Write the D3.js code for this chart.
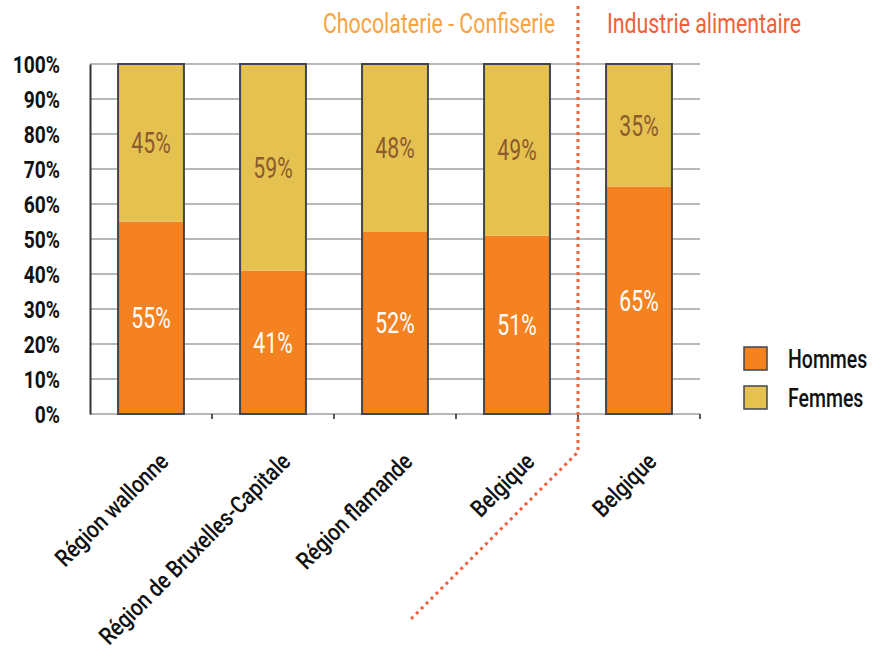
<!DOCTYPE html>
<html>
<head>
<meta charset="utf-8">
<script src="https://cdn.jsdelivr.net/npm/d3@7"></script>
<style>
  body { margin: 0; background: #fff; }
  svg text { font-family: Roboto, "Noto Sans", sans-serif; }
</style>
</head>
<body>
<svg id="chart" width="872" height="653"></svg>
<script>
// Répartition hommes / femmes par secteur et région
const categories = ["Région wallonne", "Région de Bruxelles-Capitale", "Région flamande", "Belgique", "Belgique"];
const hommes = [55, 41, 52, 51, 65];
const femmes = [45, 59, 48, 49, 35];
const yTicks = [0, 10, 20, 30, 40, 50, 60, 70, 80, 90, 100];
const seriesNames = ["Hommes", "Femmes"];
const sectorTitles = ["Chocolaterie - Confiserie", "Industrie alimentaire"];

const colors = { Hommes: "#f58220", Femmes: "#e5c250" };
const outline = "#3f4650";
const NARROW = 0.75;   // compression horizontale du texte (police étroite)

const svg = d3.select("#chart");
const margin = { left: 90, right: 172, top: 64, bottom: 239 };
const W = 872, H = 653;

// texte étroit : position dans un groupe, compression horizontale sur le texte
function narrowText(parent, tx, ty, str, opts = {}) {
  const g = parent.append("g").attr("transform", `translate(${tx},${ty})${opts.rotate ? ` rotate(${opts.rotate})` : ""}`);
  return g.append("text")
    .attr("transform", `scale(${opts.sx || NARROW},1)`)
    .attr("text-anchor", opts.anchor || "middle")
    .attr("dy", opts.dy || null)
    .attr("font-size", opts.size || 24)
    .attr("font-weight", opts.weight || 400)
    .attr("fill", opts.fill || "#111")
    .text(str);
}

const x = d3.scaleBand()
  .domain(d3.range(categories.length))
  .range([margin.left, W - margin.right])
  .paddingInner(0.46)
  .paddingOuter(0.23);

const y = d3.scaleLinear().domain([0, 100]).range([H - margin.bottom, margin.top]);

// grille horizontale
svg.append("g").selectAll("line").data(yTicks).join("line")
  .attr("x1", margin.left).attr("x2", W - margin.right)
  .attr("y1", d => y(d)).attr("y2", d => y(d))
  .attr("stroke", "#b8b8b8").attr("stroke-width", 2);

// axe vertical (ligne) et graduations
const yAxis = svg.append("g")
  .attr("transform", `translate(${margin.left},0)`)
  .call(d3.axisLeft(y).tickValues(yTicks).tickSize(0).tickFormat(""));
yAxis.select(".domain").attr("stroke", "#333").attr("stroke-width", 2);
const yLabels = svg.append("g");
yTicks.forEach(t => narrowText(yLabels, margin.left - 30, y(t), t + "%",
  { anchor: "end", dy: "0.36em", size: 24, weight: 700, sx: 0.8 }));

// petites graduations entre les catégories
const bounds = d3.range(1, categories.length + 1).map(i => margin.left + (W - margin.right - margin.left) * i / categories.length);
svg.append("g").selectAll("line").data(bounds).join("line")
  .attr("x1", d => d).attr("x2", d => d)
  .attr("y1", y(0)).attr("y2", y(0) + 5)
  .attr("stroke", "#222").attr("stroke-width", 1.5);

// barres empilées
const stackData = categories.map((c, i) => ({ i, Hommes: hommes[i], Femmes: femmes[i] }));
const stacked = d3.stack().keys(seriesNames)(stackData);

const bars = svg.append("g");
stacked.forEach(layer => {
  bars.selectAll(null).data(layer).join("rect")
    .attr("x", d => x(d.data.i))
    .attr("width", x.bandwidth())
    .attr("y", d => y(d[1]))
    .attr("height", d => y(d[0]) - y(d[1]))
    .attr("fill", colors[layer.key]);
});
// contour de chaque barre
bars.selectAll(null).data(stackData).join("rect")
  .attr("x", d => x(d.i)).attr("width", x.bandwidth())
  .attr("y", y(100)).attr("height", y(0) - y(100))
  .attr("fill", "none").attr("stroke", outline).attr("stroke-width", 2);

// étiquettes de valeur
const valueLabels = svg.append("g");
stacked.forEach(layer => {
  layer.forEach(d => narrowText(valueLabels,
    x(d.data.i) + x.bandwidth() / 2, (y(d[0]) + y(d[1])) / 2, (d[1] - d[0]) + "%",
    { dy: "0.36em", size: 29, sx: 0.73, fill: layer.key === "Hommes" ? "#ffffff" : "#8c5a2e" }));
});

// libellés des catégories inclinés
const catLabels = svg.append("g");
categories.forEach((c, i) => narrowText(catLabels,
  x(i) + x.bandwidth() / 2 + 19, y(0) + 49, c,
  { anchor: "end", size: 24, weight: 500, rotate: -45, sx: 0.84 }));

// séparateur pointillé entre les secteurs
const sepX = bounds[3];
svg.append("path")
  .attr("d", `M${sepX},6 L${sepX},452 L410,620`)
  .attr("fill", "none")
  .attr("stroke", "#f0603a")
  .attr("stroke-width", 3)
  .attr("stroke-dasharray", "3,4");

// titres des secteurs
narrowText(svg, 439, 33, sectorTitles[0], { size: 27, sx: 0.79, fill: "#f7a243" });
narrowText(svg, 704, 33, sectorTitles[1], { size: 27, sx: 0.79, fill: "#f0603a" });

// légende
const legend = svg.append("g").attr("transform", "translate(744,347)");
seriesNames.forEach((s, i) => {
  const g = legend.append("g").attr("transform", `translate(0,${i * 39})`);
  g.append("rect").attr("width", 23).attr("height", 23)
    .attr("fill", colors[s]).attr("stroke", outline).attr("stroke-width", 1.5);
  narrowText(g, 44, 12, s, { anchor: "start", dy: "0.36em", size: 26, weight: 500 });
});
</script>
</body>
</html>
